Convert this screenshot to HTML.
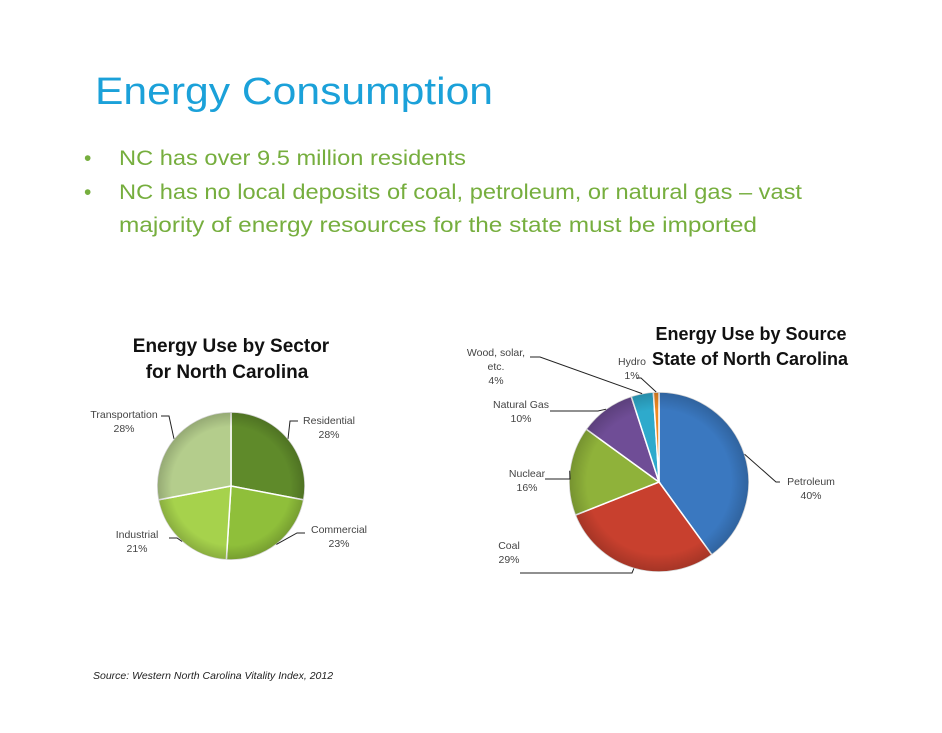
<!DOCTYPE html>
<html><head><meta charset="utf-8"><style>
body{margin:0;background:#fff;width:942px;height:728px;overflow:hidden;font-family:"Liberation Sans",sans-serif}
svg text{font-family:"Liberation Sans",sans-serif}
</style></head><body>
<svg width="942" height="728" xmlns="http://www.w3.org/2000/svg">
<defs>
<radialGradient id="sh" cx="50%" cy="50%" r="50%"><stop offset="80%" stop-color="#000" stop-opacity="0"/><stop offset="100%" stop-color="#000" stop-opacity="0.18"/></radialGradient>
</defs>
<text x="95" y="104" font-size="38" fill="#1ba1d9" textLength="398" lengthAdjust="spacingAndGlyphs">Energy Consumption</text>
<g fill="#76ae3e" font-size="21">
<text x="84" y="165">•</text>
<text x="119" y="165" textLength="347" lengthAdjust="spacingAndGlyphs">NC has over 9.5 million residents</text>
<text x="84" y="199">•</text>
<text x="119" y="199" textLength="683" lengthAdjust="spacingAndGlyphs">NC has no local deposits of coal, petroleum, or natural gas – vast</text>
<text x="119" y="232" textLength="638" lengthAdjust="spacingAndGlyphs">majority of energy resources for the state must be imported</text>
</g>
<g font-weight="bold" font-size="19" fill="#111" text-anchor="middle">
<text x="231" y="352">Energy Use by Sector</text>
<text x="227" y="378">for North Carolina</text>
<text x="751" y="340" font-size="18">Energy Use by Source</text>
<text x="750" y="365" font-size="18">State of North Carolina</text>
</g>
<g id="left"></g>
<g id="right"></g>
<text x="93" y="679" font-size="10.5" font-style="italic" fill="#222">Source:  Western North Carolina Vitality Index, 2012</text>
</svg>
<script>
const sectorCats=["Residential","Commercial","Industrial","Transportation"];
const sectorVals=[28,23,21,28];
const sourceCats=["Petroleum","Coal","Nuclear","Natural Gas","Wood, solar, etc.","Hydro"];
const sourceVals=[40,29,16,10,4,1];
const NS="http://www.w3.org/2000/svg";
function pie(gid,cx,cy,r,vals,cats,colors,labels){
  const g=document.getElementById(gid);
  const tot=vals.reduce((a,b)=>a+b,0);
  let a=-Math.PI/2;
  vals.forEach((v,i)=>{
    const a2=a+v/tot*2*Math.PI;
    const p=document.createElementNS(NS,'path');
    const x1=cx+r*Math.cos(a),y1=cy+r*Math.sin(a),x2=cx+r*Math.cos(a2),y2=cy+r*Math.sin(a2);
    p.setAttribute('d',`M${cx},${cy}L${x1},${y1}A${r},${r} 0 ${a2-a>Math.PI?1:0} 1 ${x2},${y2}Z`);
    p.setAttribute('fill',colors[i]);p.setAttribute('stroke','#fff');p.setAttribute('stroke-width','1.5');
    
    
    g.appendChild(p);
    const mid=(a+a2)/2, L=labels[i];
    const ex=cx+r*Math.cos(mid), ey=cy+r*Math.sin(mid);
    const ln=document.createElementNS(NS,'polyline');
    ln.setAttribute('points',`${ex},${ey} ${L.lx},${L.ly} ${L.lx2},${L.ly}`);
    ln.setAttribute('fill','none');ln.setAttribute('stroke','#222');ln.setAttribute('stroke-width','1');
    
    
    g.appendChild(ln);
    const lines=L.text.concat([v+'%']);
    lines.forEach((s,k)=>{
      const t=document.createElementNS(NS,'text');
      t.setAttribute('x',L.tx);t.setAttribute('y',L.ty+k*14);
      t.setAttribute('font-size','10.5');t.setAttribute('fill','#444');t.setAttribute('text-anchor','middle');
      t.textContent=s;
      
      
      g.appendChild(t);
    });
    a=a2;
  });
  const c=document.createElementNS(NS,'circle');
  c.setAttribute('cx',cx);c.setAttribute('cy',cy);c.setAttribute('r',r);c.setAttribute('fill','url(#sh)');c.setAttribute('pointer-events','none');
  
  
  g.appendChild(c);
}
pie('left',231,486,74,sectorVals,sectorCats,['#5f8a2a','#8fbf3a','#a6d24c','#b4cd8c'],[
 {lx:290,ly:421,lx2:298,tx:329,ty:424,text:["Residential"]},
 {lx:297,ly:533,lx2:305,tx:339,ty:533,text:["Commercial"]},
 {lx:177,ly:538,lx2:169,tx:137,ty:538,text:["Industrial"]},
 {lx:169,ly:416,lx2:161,tx:124,ty:418,text:["Transportation"]}
]);
pie('right',659,482,90,sourceVals,sourceCats,['#3a78c0','#c8402e','#8fb23a','#6f4d96','#2eaacc','#f08a22'],[
 {lx:776,ly:482,lx2:780,tx:811,ty:485,text:["Petroleum"]},
 {lx:632,ly:573,lx2:520,tx:509,ty:549,text:["Coal"]},
 {lx:570,ly:479,lx2:545,tx:527,ty:477,text:["Nuclear"]},
 {lx:598,ly:411,lx2:550,tx:521,ty:408,text:["Natural Gas"]},
 {lx:540,ly:357,lx2:530,tx:496,ty:356,text:["Wood, solar,","etc."]},
 {lx:641,ly:378,lx2:637,tx:632,ty:365,text:["Hydro"]}
]);
</script>
</body></html>
